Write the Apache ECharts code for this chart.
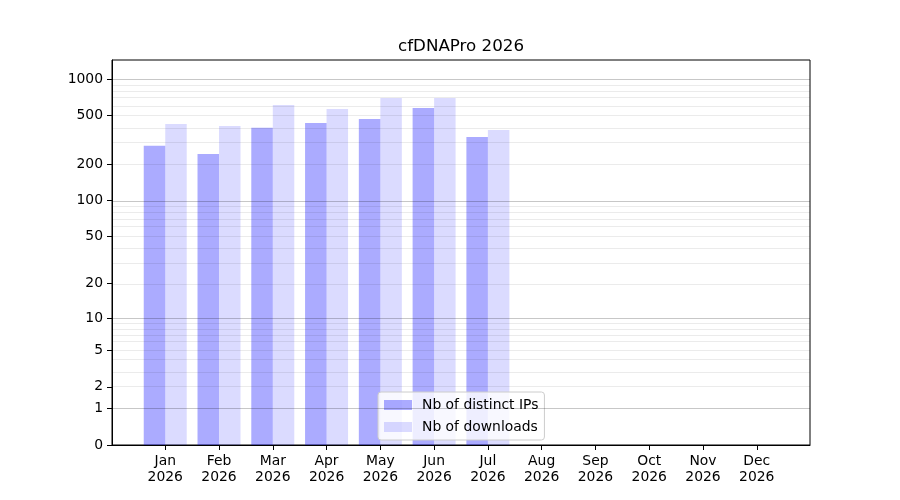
<!DOCTYPE html>
<html>
<head>
<meta charset="utf-8">
<script src="https://cdn.jsdelivr.net/npm/echarts@6/dist/echarts.min.js"></script>
<style>
  html, body { margin: 0; padding: 0; background: #fff; }
  #chart { width: 900px; height: 500px; }
</style>
</head>
<body>
<div id="chart"></div>
<script>
var months = ['Jan', 'Feb', 'Mar', 'Apr', 'May', 'Jun', 'Jul', 'Aug', 'Sep', 'Oct', 'Nov', 'Dec'];
var year = '2026';
var ipsCounts = [283, 242, 398, 435, 469, 578, 334, 0, 0, 0, 0, 0];
var downloadCounts = [427, 411, 612, 567, 698, 698, 381, 0, 0, 0, 0, 0];
var yTicks = [0, 1, 2, 5, 10, 20, 50, 100, 200, 500, 1000];
var majorGrid = [1, 10, 100, 1000];
var minorGrid = [2, 3, 4, 5, 6, 7, 8, 9, 20, 30, 40, 50, 60, 70, 80, 90, 200, 300, 400, 500, 600, 700, 800, 900];

// y scale is log10(1 + v)
function tf(v) { return Math.log10(1 + v); }
function untf(t) { return Math.pow(10, t) - 1; }

var font = 'DejaVu Sans';

var chart = echarts.init(document.getElementById('chart'));

function toPoints(arr) {
    return arr.map(function(v, i) { return [i, tf(v)]; });
}

var gridLines = majorGrid.map(function(v) {
    return { yAxis: tf(v), lineStyle: { color: 'rgba(0,0,0,0.22)', width: 1, type: 'solid' } };
}).concat(minorGrid.map(function(v) {
    return { yAxis: tf(v), lineStyle: { color: 'rgba(0,0,0,0.08)', width: 1, type: 'solid' } };
}));

chart.setOption({
    animation: false,
    title: {
        text: 'cfDNAPro ' + year,
        left: 398,
        top: 38.5,
        padding: 0,
        textStyle: { fontFamily: font, fontSize: 16.7, fontWeight: 'normal', color: '#000' }
    },
    legend: {
        data: ['Nb of distinct IPs', 'Nb of downloads'],
        orient: 'vertical',
        left: 378,
        top: 392,
        padding: [6, 6, 6, 6],
        itemWidth: 28,
        itemHeight: 10,
        itemGap: 8,
        icon: 'rect',
        backgroundColor: 'rgba(255,255,255,0.8)',
        borderColor: '#cccccc',
        borderWidth: 1,
        borderRadius: 3,
        textStyle: { fontFamily: font, fontSize: 13.9, color: '#000', padding: [0, 0, 0, 5] }
    },
    grid: {
        left: 112,
        right: 90,
        top: 60,
        bottom: 55,
        show: true,
        borderColor: '#000',
        borderWidth: 1,
        backgroundColor: 'transparent'
    },
    xAxis: {
        type: 'value',
        min: -0.99,
        max: 11.99,
        axisLine: { show: true, onZero: false, lineStyle: { color: '#000', width: 1 } },
        axisTick: { show: true, length: 5, customValues: months.map(function(m, i) { return i; }), lineStyle: { color: '#000' } },
        axisLabel: {
            customValues: months.map(function(m, i) { return i; }),
            formatter: function(v) { return months[Math.round(v)] + '\n' + year; },
            fontFamily: font,
            fontSize: 13.9,
            lineHeight: 16,
            color: '#000',
            margin: 8
        },
        splitLine: { show: false }
    },
    yAxis: {
        type: 'value',
        min: 0,
        max: 3.156,
        axisLine: { show: true, onZero: false, lineStyle: { color: '#000', width: 1 } },
        axisTick: { show: true, length: 5, customValues: yTicks.map(tf), lineStyle: { color: '#000' } },
        axisLabel: {
            customValues: yTicks.map(tf),
            formatter: function(v) { return String(Math.round(untf(v))); },
            fontFamily: font,
            fontSize: 13.9,
            color: '#000',
            margin: 9,
            padding: [2, 0, 0, 0]
        },
        splitLine: { show: false }
    },
    series: [{
        type: 'line',
        data: [],
        z: 1,
        silent: true,
        markLine: {
            silent: true,
            symbol: ['none', 'none'],
            label: { show: false },
            data: gridLines
        }
    }, {
        name: 'Nb of distinct IPs',
        type: 'bar',
        z: 2,
        barWidth: 21.5,
        barGap: '0%',
        data: toPoints(ipsCounts),
        itemStyle: { color: 'rgba(0,0,255,0.33)' }
    }, {
        name: 'Nb of downloads',
        type: 'bar',
        z: 2,
        barWidth: 21.5,
        barGap: '0%',
        data: toPoints(downloadCounts),
        itemStyle: { color: 'rgba(0,0,255,0.14)' }
    }]
});
</script>
</body>
</html>
